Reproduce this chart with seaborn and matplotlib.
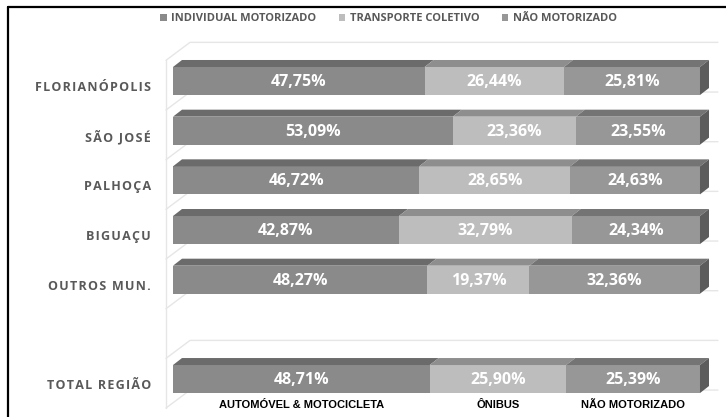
import pandas as pd
import matplotlib.pyplot as plt
import seaborn as sns
from matplotlib.patches import Polygon, Patch
from matplotlib.lines import Line2D

# Dados do gráfico (divisão modal por município)
municipios = ['FLORIANÓPOLIS', 'SÃO JOSÉ', 'PALHOÇA', 'BIGUAÇU', 'OUTROS MUN.', 'TOTAL REGIÃO']
individual = [47.75, 53.09, 46.72, 42.87, 48.27, 48.71]
coletivo = [26.44, 23.36, 28.65, 32.79, 19.37, 25.90]
nao_motorizado = [25.81, 23.55, 24.63, 24.34, 32.36, 25.39]
series = ['INDIVIDUAL MOTORIZADO', 'TRANSPORTE COLETIVO', 'NÃO MOTORIZADO']
rotulos_base = ['AUTOMÓVEL & MOTOCICLETA', 'ÔNIBUS', 'NÃO MOTORIZADO']

# cores (frente, topo)
cor_frente = ['#8a8a8a', '#bdbdbd', '#979797']
cor_topo = ['#6b6b6b', '#8e8e8e', '#747474']
cor_lado = '#5c5c5c'
cor_texto = '#595959'

df = pd.DataFrame({'municipio': municipios, 'im': individual, 'tc': coletivo, 'nm': nao_motorizado})
df['c1'] = df['im']
df['c2'] = df['im'] + df['tc']
df['c3'] = df['c2'] + df['nm']

ordem = municipios[:5] + [' '] + municipios[5:]
altura = 0.564
dx, dy = 1.71, 0.141  # deslocamento 3D (unidades de dados)

sns.set_style('white')
plt.rcParams['font.family'] = ['Open Sans', 'DejaVu Sans']

fig = plt.figure(figsize=(7.26, 4.17), dpi=100)
ax = fig.add_axes([0.2274, 0.0017, 0.7658, 0.9053])

# barras empilhadas: desenha do total para o primeiro segmento
for col, cor in zip(['c3', 'c2', 'c1'], cor_frente[::-1]):
    sns.barplot(data=df, y='municipio', x=col, order=ordem, color=cor, saturation=1,
                width=altura, errorbar=None, orient='h', ax=ax, zorder=3, linewidth=0)

ax.set_xlim(-1.5, 104)
ax.set_ylim(6.75, -0.85)

# linhas de grade em perspectiva
limites = [i + 0.584 for i in range(-1, 7)]
for b in limites:
    ax.plot([-1.33, 3.23, 103.4], [b, b - 0.362, b - 0.362], color='#e6e6e6', lw=1, zorder=1, clip_on=False)
ax.plot([-1.33, -1.33], [limites[0], limites[-1]], color='#e6e6e6', lw=1, zorder=1, clip_on=False)

# faces superiores e laterais + rótulos
for _, row in df.iterrows():
    y = ordem.index(row['municipio'])
    topo = y - altura / 2
    base = y + altura / 2
    lefts = [0, row['c1'], row['c2']]
    rights = [row['c1'], row['c2'], row['c3']]
    vals = [row['im'], row['tc'], row['nm']]
    for k in range(3):
        l, r = lefts[k], rights[k]
        ax.add_patch(Polygon([(l, topo), (r, topo), (r + dx, topo - dy), (l + dx, topo - dy)],
                             closed=True, facecolor=cor_topo[k], edgecolor='none', zorder=4))
        ax.text((l + r) / 2, y + 0.02, f'{vals[k]:.2f}%'.replace('.', ','), ha='center', va='center',
                color='white', fontsize=11.5, fontweight='bold', zorder=6)
    r = rights[-1]
    ax.add_patch(Polygon([(r, topo), (r + dx, topo - dy), (r + dx, base - dy), (r, base)],
                         closed=True, facecolor=cor_lado, edgecolor='none', zorder=4))

# rótulos abaixo da barra total
tot = df.iloc[-1]
for txt, l, r in zip(rotulos_base, [0, tot['c1'], tot['c2']], [tot['c1'], tot['c2'], tot['c3']]):
    ax.text((l + r) / 2, 6.52, txt, ha='center', va='center', fontsize=8, fontweight='bold',
            color='black', family='Liberation Sans', clip_on=False)

# eixos (rótulos com leve espaçamento entre letras)
espacados = ['\u200a'.join(s) for s in ordem]
ax.set_yticks([i + 0.1 for i in range(len(ordem))])
ax.set_yticklabels(espacados, fontsize=9, fontweight='bold', color=cor_texto)
ax.tick_params(axis='y', length=0, pad=10)
ax.set_xticks([])
ax.set_xlabel('')
ax.set_ylabel('')
sns.despine(ax=ax, left=True, bottom=True)

# legenda
handles = [Patch(facecolor=c, edgecolor='none') for c in cor_frente]
fig.legend(handles, series, loc='center', bbox_to_anchor=(0.535, 0.955), ncol=3, frameon=False,
           handlelength=0.6, handleheight=0.6, handletextpad=0.4, columnspacing=2.0,
           prop={'weight': 'bold', 'size': 8})
for t in fig.legends[0].get_texts():
    t.set_color(cor_texto)

# moldura preta
fig.add_artist(Line2D([0.011, 0.011], [0, 0.983], color='black', lw=1.6, transform=fig.transFigure))
fig.add_artist(Line2D([0.011, 1], [0.983, 0.983], color='black', lw=1.6, transform=fig.transFigure))

fig.savefig('out.png', dpi=100)
